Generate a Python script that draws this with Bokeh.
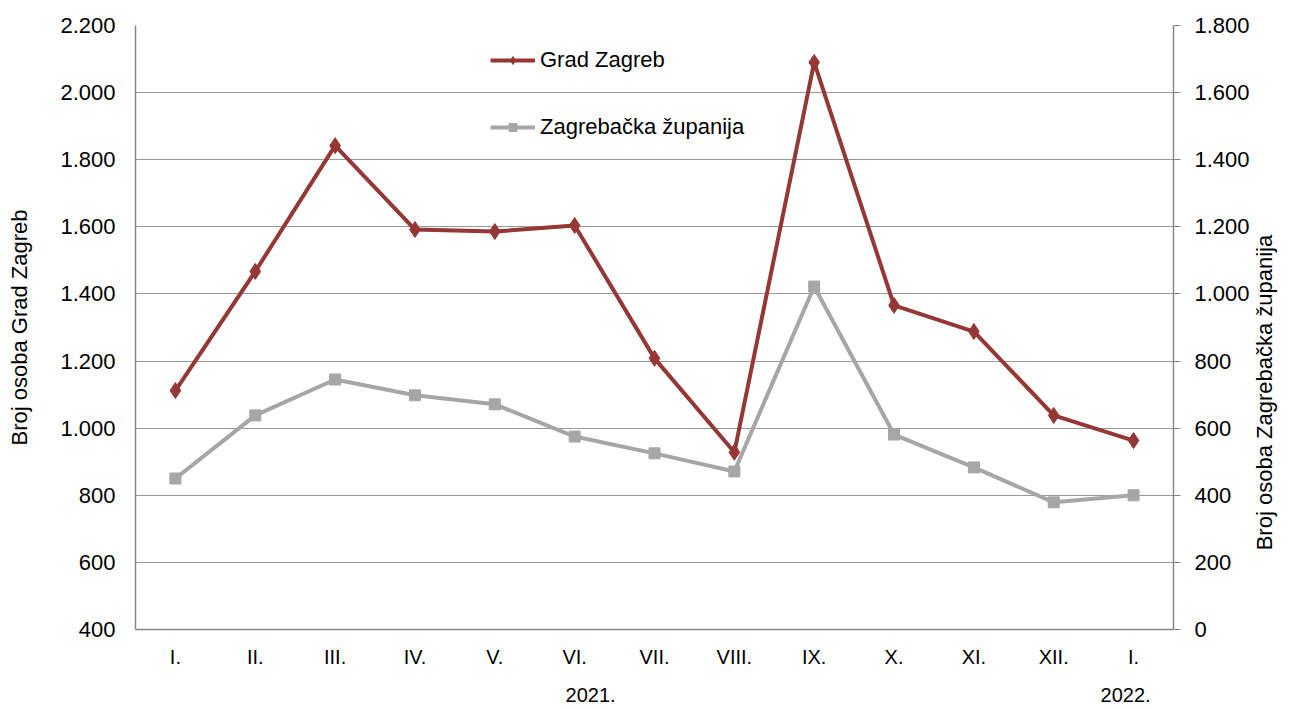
import math
from bokeh.plotting import figure
from bokeh.models import Range1d, LinearAxis, FixedTicker, Legend, LegendItem
from bokeh.embed import file_html
from bokeh.resources import INLINE

months = ["I.", "II.", "III.", "IV.", "V.", "VI.", "VII.", "VIII.", "IX.", "X.", "XI.", "XII.", "I."]
grad_zagreb = [1112, 1467, 1842, 1592, 1586, 1604, 1208, 928, 2090, 1366, 1288, 1038, 963]
zagrebacka = [450, 638, 745, 698, 671, 575, 525, 471, 1022, 581, 483, 379, 400]
years = ["2021.", "2022."]
year_pos = [5.2, 11.9]
left_ticks = list(range(400, 2201, 200))
right_ticks = list(range(0, 1801, 200))
right_title = "Broj osoba Zagrebačka županija"
right_title_start = 236  # where the rotated title begins, on the right scale

def fmt(v):
    return f"{v:,}".replace(",", ".")

FONT = "Liberation Sans"
RED = "#953735"
GRAY = "#A6A6A6"
AXC = "#868686"

x = list(range(len(months)))

p = figure(width=1292, height=708, output_backend="svg", toolbar_location=None,
           x_range=Range1d(-0.5, 12.5), y_range=Range1d(400, 2200))
p.min_border_left = 135
p.min_border_right = 1292 - 1177
p.min_border_top = 25
p.min_border_bottom = 708 - 629
p.outline_line_color = None
p.background_fill_color = "white"
p.border_fill_color = "white"

p.extra_y_ranges = {"r": Range1d(0, 1800)}

# grid
p.xgrid.visible = False
p.ygrid.grid_line_color = "#999999"
p.ygrid.grid_line_width = 1
p.ygrid.ticker = FixedTicker(ticks=left_ticks)

def bare(ax):
    ax.major_tick_out = 0
    ax.major_tick_in = 0
    ax.minor_tick_out = 0
    ax.minor_tick_in = 0
    ax.major_label_text_font = FONT
    ax.major_label_text_color = "black"

# x axis (months)
xa = p.xaxis[0]
bare(xa)
xa.ticker = FixedTicker(ticks=x)
xa.major_label_overrides = {i: m for i, m in enumerate(months)}
xa.axis_line_color = AXC
xa.axis_line_width = 1.5
xa.major_label_text_font_size = "20px"
xa.major_label_standoff = 16

# second x axis (years)
xa2 = LinearAxis()
bare(xa2)
xa2.ticker = FixedTicker(ticks=year_pos)
xa2.major_label_overrides = {v: t for v, t in zip(year_pos, years)}
xa2.axis_line_color = None
xa2.major_label_text_font_size = "20px"
xa2.major_label_standoff = 17
p.add_layout(xa2, "below")

# left axis
ya = p.yaxis[0]
bare(ya)
ya.ticker = FixedTicker(ticks=left_ticks)
ya.major_label_overrides = {v: fmt(v) for v in left_ticks}
ya.axis_line_color = AXC
ya.axis_line_width = 1.5
ya.major_label_text_font_size = "22px"
ya.major_label_standoff = 20
ya.axis_label = "Broj osoba Grad Zagreb"
ya.axis_label_text_font = FONT
ya.axis_label_text_font_size = "22px"
ya.axis_label_text_font_style = "normal"
ya.axis_label_text_color = "black"
ya.axis_label_standoff = 25

# right axis
ra = LinearAxis(y_range_name="r")
bare(ra)
ra.ticker = FixedTicker(ticks=right_ticks)
ra.major_label_overrides = {v: fmt(v) for v in right_ticks}
ra.major_tick_out = 7
ra.major_tick_line_color = AXC
ra.axis_line_color = AXC
ra.axis_line_width = 1.5
ra.major_label_text_font_size = "22px"
ra.major_label_standoff = 14
p.add_layout(ra, "right")

# right axis title (bottom-to-top), drawn as a label-only axis
rt = LinearAxis(y_range_name="r")
bare(rt)
rt.ticker = FixedTicker(ticks=[right_title_start])
rt.major_label_overrides = {right_title_start: right_title}
rt.major_label_orientation = math.pi / 2
rt.axis_line_color = None
rt.major_label_text_font_size = "22px"
rt.major_label_standoff = 12
p.add_layout(rt, "right")

# series
l2 = p.line(x, zagrebacka, y_range_name="r", line_color=GRAY, line_width=4)
s2 = p.scatter(x, zagrebacka, y_range_name="r", marker="square", size=11,
               fill_color=GRAY, line_color=GRAY)
l1 = p.line(x, grad_zagreb, line_color=RED, line_width=4)
s1 = p.scatter(x, grad_zagreb, marker="diamond", size=16,
               fill_color=RED, line_color=RED)

legend = Legend(items=[LegendItem(label="Grad Zagreb", renderers=[l1, s1]),
                       LegendItem(label="Zagrebačka županija", renderers=[l2, s2])],
                location=(355, 489), orientation="vertical")
legend.border_line_color = None
legend.background_fill_alpha = 0
legend.padding = 0
legend.margin = 0
legend.spacing = 41
legend.glyph_width = 45
legend.glyph_height = 20
legend.label_height = 20
legend.label_standoff = 5
legend.label_text_font = FONT
legend.label_text_font_size = "22px"
legend.label_text_color = "black"
p.add_layout(legend, "center")

open("out.html", "w").write(file_html(p, INLINE))
